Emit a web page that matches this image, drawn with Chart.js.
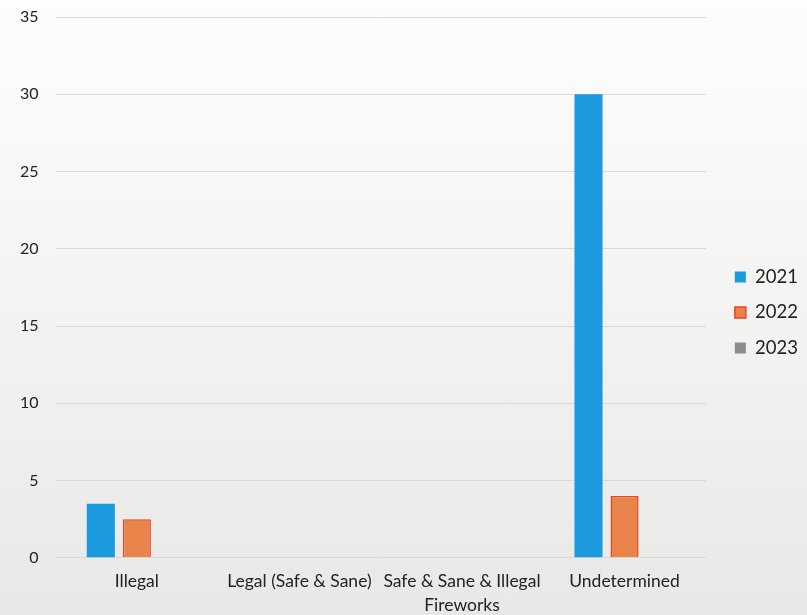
<!DOCTYPE html>
<html>
<head>
<meta charset="utf-8">
<script src="https://cdn.jsdelivr.net/npm/chart.js@4/dist/chart.umd.min.js"></script>
<style>
  html, body { margin: 0; padding: 0; }
  body { width: 807px; height: 615px; background: linear-gradient(to bottom, #fdfdfd 0%, #f3f3f2 50%, #e8e9e7 100%); }
  #wrap { position: relative; width: 807px; height: 615px; }
</style>
</head>
<body>
<div id="wrap"><canvas id="c" width="807" height="615"></canvas></div>
<script>
const categories = ["Illegal", "Legal (Safe & Sane)", ["Safe & Sane & Illegal", "Fireworks"], "Undetermined"];
const seriesNames = ["2021", "2022", "2023"];
const values2021 = [3.5, 0, 0, 30];
const values2022 = [2.5, 0, 0, 4];
const values2023 = [0, 0, 0, 0];
const yTicks = [0, 5, 10, 15, 20, 25, 30, 35];

const FONT = "Lato, 'Open Sans', sans-serif";

const legendShift = {
  id: 'legendShift',
  afterLayout(chart) {
    const lg = chart.legend;
    if (lg) { lg.left += 12; lg.right += 12; lg.top -= 2; lg.bottom -= 2; }
  }
};

new Chart(document.getElementById('c'), {
  type: 'bar',
  data: {
    labels: categories,
    datasets: [
      { label: seriesNames[0], data: values2021, backgroundColor: '#1b9ae0', borderWidth: 0 },
      { label: seriesNames[1], data: values2022, backgroundColor: '#e8834a', borderColor: '#e8452c', borderWidth: 1.5 },
      { label: seriesNames[2], data: values2023, backgroundColor: '#8c8c8c', borderWidth: 0 }
    ]
  },
  plugins: [legendShift],
  options: {
    responsive: false,
    animation: false,
    layout: { padding: { left: 3, top: 0, right: 11, bottom: -14 } },
    datasets: { bar: { categoryPercentage: 0.665, barPercentage: 0.78 } },
    plugins: {
      legend: {
        position: 'right',
        labels: {
          boxWidth: 11, boxHeight: 11, padding: 17,
          color: '#222', font: { family: FONT, size: 18.5 }
        }
      },
      tooltip: { enabled: false }
    },
    scales: {
      x: {
        grid: { display: false, drawTicks: false },
        border: { display: false },
        ticks: { color: '#222', padding: 12, maxRotation: 0, autoSkip: false, font: { family: FONT, size: 17.5, lineHeight: 1.35 } }
      },
      y: {
        min: 0, max: 35,
        afterBuildTicks: (axis) => { axis.ticks = yTicks.map(v => ({ value: v })); },
        afterFit: (axis) => { axis.paddingTop = 17; },
        grid: { color: '#d8d8d8', lineWidth: 1, drawTicks: false },
        border: { display: false },
        ticks: { color: '#222', padding: 17, font: { family: FONT, size: 16 } }
      }
    }
  }
});
</script>
</body>
</html>
